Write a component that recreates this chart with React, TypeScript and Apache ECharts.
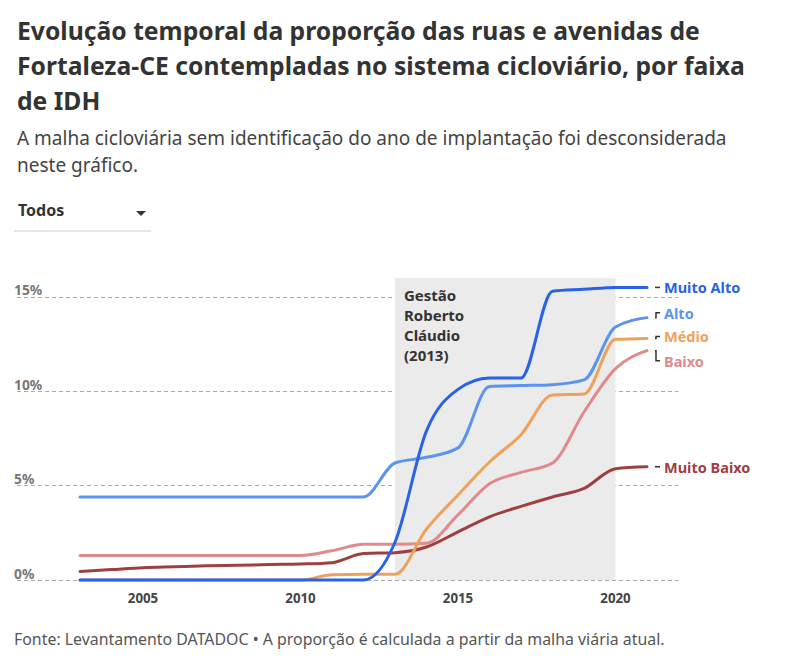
import React, { useEffect, useRef } from "react";
import * as echarts from "echarts";

const years = [2003, 2004, 2005, 2006, 2007, 2008, 2009, 2010, 2011, 2012, 2013, 2014, 2015, 2016, 2017, 2018, 2019, 2020, 2021];
const muitoAlto = [0, 0, 0, 0, 0, 0, 0, 0, 0, 0, 2.0, 7.9, 10.1, 10.7, 10.7, 15.3, 15.4, 15.5, 15.5];
const alto = [4.4, 4.4, 4.4, 4.4, 4.4, 4.4, 4.4, 4.4, 4.4, 4.4, 6.2, 6.5, 7.0, 10.25, 10.3, 10.35, 10.6, 13.4, 13.9];
const medio = [0, 0, 0, 0, 0, 0, 0, 0, 0.28, 0.3, 0.3, 2.7, 4.5, 6.25, 7.7, 9.8, 9.85, 12.75, 12.8];
const baixo = [1.3, 1.3, 1.3, 1.3, 1.3, 1.3, 1.3, 1.3, 1.55, 1.9, 1.9, 1.95, 3.45, 5.1, 5.7, 6.2, 8.9, 11.2, 12.15];
const muitoBaixo = [0.45, 0.55, 0.65, 0.7, 0.75, 0.78, 0.82, 0.85, 0.92, 1.4, 1.45, 1.75, 2.55, 3.35, 3.9, 4.4, 4.85, 5.9, 6.0];

const seriesNames = ["Muito Baixo", "Baixo", "Médio", "Alto", "Muito Alto"];
const seriesData = [muitoBaixo, baixo, medio, alto, muitoAlto];
const seriesColors = ["#9e4040", "#e08a8b", "#efa15a", "#5b94ef", "#2862e6"];
const labelShift = [0, 10, -2, -5, 0];

const gridYears = [2005, 2010, 2015, 2020];
const periodStart = 2013;
const periodEnd = 2020;
const periodLabel = "Gestão\nRoberto\nCláudio\n(2013)";

const titleText = "Evolução temporal da proporção das ruas e avenidas de\nFortaleza-CE contempladas no sistema cicloviário, por faixa\nde IDH";
const subtitleText = "A malha cicloviária sem identificação do ano de implantação foi desconsiderada\nneste gráfico.";
const footerText = "Fonte: Levantamento DATADOC • A proporção é calculada a partir da malha viária atual.";

const FONT = "'Noto Sans', 'Open Sans', sans-serif";

function monotonePath(pts: number[][]): string {
  const n = pts.length;
  if (n < 2) return "";
  const sign = (v: number) => (v < 0 ? -1 : 1);
  const t: number[] = new Array(n).fill(0);
  for (let i = 1; i < n - 1; i++) {
    const h0 = pts[i][0] - pts[i - 1][0];
    const h1 = pts[i + 1][0] - pts[i][0];
    const s0 = (pts[i][1] - pts[i - 1][1]) / h0;
    const s1 = (pts[i + 1][1] - pts[i][1]) / h1;
    const p = (s0 * h1 + s1 * h0) / (h0 + h1);
    const sg = (s0 === 0 ? 0 : sign(s0)) + (s1 === 0 ? 0 : sign(s1));
    t[i] = sg * Math.min(Math.abs(s0), Math.abs(s1), 0.5 * Math.abs(p)) || 0;
  }
  {
    const h = pts[1][0] - pts[0][0];
    t[0] = (3 * (pts[1][1] - pts[0][1]) / h - t[1]) / 2;
    const h2 = pts[n - 1][0] - pts[n - 2][0];
    t[n - 1] = (3 * (pts[n - 1][1] - pts[n - 2][1]) / h2 - t[n - 2]) / 2;
  }
  let d = `M${pts[0][0]},${pts[0][1]}`;
  for (let i = 0; i < n - 1; i++) {
    const [x0, y0] = pts[i];
    const [x1, y1] = pts[i + 1];
    const dx = (x1 - x0) / 3;
    d += ` C${x0 + dx},${y0 + dx * t[i]} ${x1 - dx},${y1 - dx * t[i + 1]} ${x1},${y1}`;
  }
  return d;
}

export default function App() {
  const ref = useRef<HTMLDivElement>(null);
  useEffect(() => {
    if (!ref.current) return;
    const chart = echarts.init(ref.current, undefined, { renderer: "svg" });
    const lineSeries = seriesNames.map((name, i) => ({
      type: "custom",
      name,
      data: years.map((y, j) => [y, seriesData[i][j]]),
      encode: { x: 0, y: 1 },
      clip: false,
      silent: true,
      z: 3 + i,
      renderItem: (params: any, api: any) => {
        if (params.dataIndex !== 0) return null;
        const arr = seriesData[i];
        const pts = years.map((y, j) => api.coord([y, arr[j]]) as number[]);
        const end = pts[pts.length - 1];
        const sh = labelShift[i];
        return {
          type: "group",
          children: [
            {
              type: "path",
              shape: { pathData: monotonePath(pts) },
              style: { stroke: seriesColors[i], lineWidth: 3, fill: "none", lineJoin: "round", lineCap: "round" },
            },
            {
              type: "polyline",
              shape: { points: [[end[0] + 8, end[1]], [end[0] + 9, end[1]], [end[0] + 9, end[1] + sh], [end[0] + 13, end[1] + sh]] },
              style: { stroke: "#333", lineWidth: 1.5, fill: "none" },
            },
            {
              type: "text",
              x: end[0] + 17,
              y: end[1] + sh,
              style: {
                text: name,
                fill: seriesColors[i],
                fontSize: 14.5,
                fontWeight: "bold",
                fontFamily: FONT,
                verticalAlign: "middle",
                align: "left",
              },
            },
          ],
        };
      },
    }));
    const option: any = {
      animation: false,
      textStyle: { fontFamily: FONT },
      title: [
        {
          text: titleText,
          left: 12,
          top: 8,
          textStyle: { fontSize: 24.7, fontWeight: "bold", color: "#333", lineHeight: 35, fontFamily: FONT },
        },
        {
          text: subtitleText,
          left: 12,
          top: 119,
          textStyle: { fontSize: 19, fontWeight: "normal", color: "#444", lineHeight: 27, fontFamily: FONT },
        },
      ],
      grid: { left: 17, right: 117.5, top: 278, bottom: 78, containLabel: false },
      xAxis: {
        type: "value",
        min: 2001,
        max: 2022,
        interval: 1,
        axisLine: { show: false },
        axisTick: { show: false },
        splitLine: { show: false },
        axisLabel: {
          formatter: (v: number) => (gridYears.includes(v) ? String(v) : ""),
          color: "#444",
          fontWeight: "bold",
          fontSize: 13.3,
          margin: 11,
          fontFamily: FONT,
        },
      },
      yAxis: {
        type: "value",
        min: 0,
        max: 16,
        interval: 5,
        axisLine: { show: false },
        axisTick: { show: false },
        splitLine: { show: true, showMaxLine: false, lineStyle: { type: [4, 3], color: "#aaa", width: 1 } },
        axisLabel: {
          inside: true,
          showMaxLabel: false,
          align: "left",
          verticalAlign: "bottom",
          margin: -3,
          formatter: (v: number) => v + "%",
          color: "#777",
          fontWeight: "bold",
          fontSize: 13.8,
          fontFamily: FONT,
        },
      },
      series: [
        {
          type: "line",
          name: "periodo",
          data: [],
          z: -2,
          silent: true,
          markArea: {
            silent: true,
            itemStyle: { color: "#ebebeb" },
            label: {
              show: true,
              position: "insideTopLeft",
              formatter: periodLabel,
              color: "#333",
              fontWeight: "bold",
              fontSize: 15,
              lineHeight: 20,
              fontFamily: FONT,
              padding: [2, 0, 0, 4],
            },
            data: [[{ xAxis: periodStart, yAxis: 0 }, { xAxis: periodEnd, yAxis: 16 }]],
          },
        },
        {
          type: "line",
          name: "grade",
          data: [],
          z: -1,
          silent: true,
          markLine: {
            silent: true,
            symbol: "none",
            label: { show: false },
            lineStyle: { type: [4, 3], color: "#aaa", width: 1 },
            data: gridYears.map((y) => [{ coord: [y, -0.15] }, { coord: [y, 16] }]),
          },
        },
        ...lineSeries,
      ],
      graphic: [
        {
          type: "text",
          left: 18,
          top: 202,
          style: { text: "Todos", fontSize: 16, fontWeight: "bold", fill: "#333", fontFamily: FONT },
        },
        {
          type: "polygon",
          shape: { points: [[136, 211], [146, 211], [141, 216]] },
          style: { fill: "#333" },
        },
        {
          type: "line",
          shape: { x1: 14, y1: 231, x2: 151, y2: 231 },
          style: { stroke: "#ccc", lineWidth: 1 },
        },
        {
          type: "text",
          left: 14,
          top: 631,
          style: { text: footerText, fontSize: 15.9, fill: "#555", fontFamily: FONT },
        },
      ],
    };
    chart.setOption(option);
    return () => chart.dispose();
  }, []);
  return <div ref={ref} style={{ width: 796, height: 658, position: "absolute", left: 0, top: 0 }} />;
}
